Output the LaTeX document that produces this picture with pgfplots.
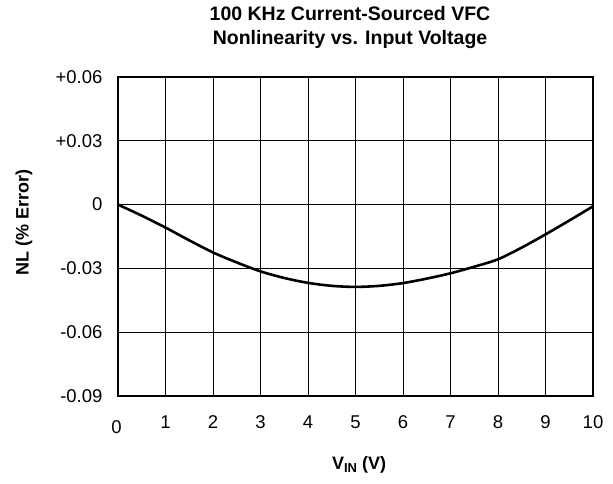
\documentclass[border=0pt]{standalone}
\usepackage{fontspec}
\setmainfont{Liberation Sans}
\usepackage{pgfplots}
\pgfplotsset{compat=1.18}

\begin{document}
\begin{tikzpicture}[x=1pt,y=1pt]
\useasboundingbox (0,0) rectangle (613,483);
\begin{axis}[
    at={(118pt,87pt)}, anchor=south west,
    scale only axis, width=475pt, height=319pt,
    xmin=0, xmax=10, ymin=-0.09, ymax=0.06,
    xtick={0,1,...,10},
    xticklabels={\raisebox{-5pt}{\hspace*{-3pt}0},1,2,3,4,5,6,7,8,9,10},
    ytick={-0.09,-0.06,-0.03,0,0.03,0.06},
    yticklabels={-0.09,-0.06,-0.03,0,+0.03,+0.06},
    scaled y ticks=false,
    grid=major,
    major grid style={black, line width=1pt},
    axis line style={line width=2.6pt},
    tick style={draw=none},
    ticklabel style={font=\fontsize{18.5}{18.5}\selectfont},
    yticklabel style={xshift=-12pt},
    xticklabel style={yshift=-32pt, anchor=base},
    /pgf/number format/assume math mode=true,
    clip=false,
]
\addplot[black, line width=2.6pt, smooth] coordinates {
    (0,0) (0.5,-0.0052) (1,-0.0108) (1.5,-0.0168) (2,-0.0225)
    (2.5,-0.0272) (3,-0.0314) (3.5,-0.0345) (4,-0.0368) (4.5,-0.0382)
    (5,-0.0387) (5.5,-0.0382) (6,-0.0369) (6.5,-0.0348) (7,-0.0323)
    (7.5,-0.0292) (8,-0.0257) (8.5,-0.0202) (9,-0.0140) (9.5,-0.0075)
    (10,-0.0008)
};
\end{axis}
\node[font=\bfseries\fontsize{19.5}{19.5}\selectfont, anchor=base] at (350,462)
    {100 KHz Current-Sourced VFC};
\node[font=\bfseries\fontsize{19.5}{19.5}\selectfont, anchor=base] at (350,438)
    {Nonlinearity vs. Input Voltage};
\node[font=\bfseries\fontsize{18}{18}\selectfont, rotate=90] at (24,261)
    {NL (\% Error)};
\node[font=\bfseries\fontsize{18}{18}\selectfont] at (359,18)
    {V\raisebox{-3pt}{\fontsize{13}{13}\selectfont IN} (V)};
\end{tikzpicture}
\end{document}
